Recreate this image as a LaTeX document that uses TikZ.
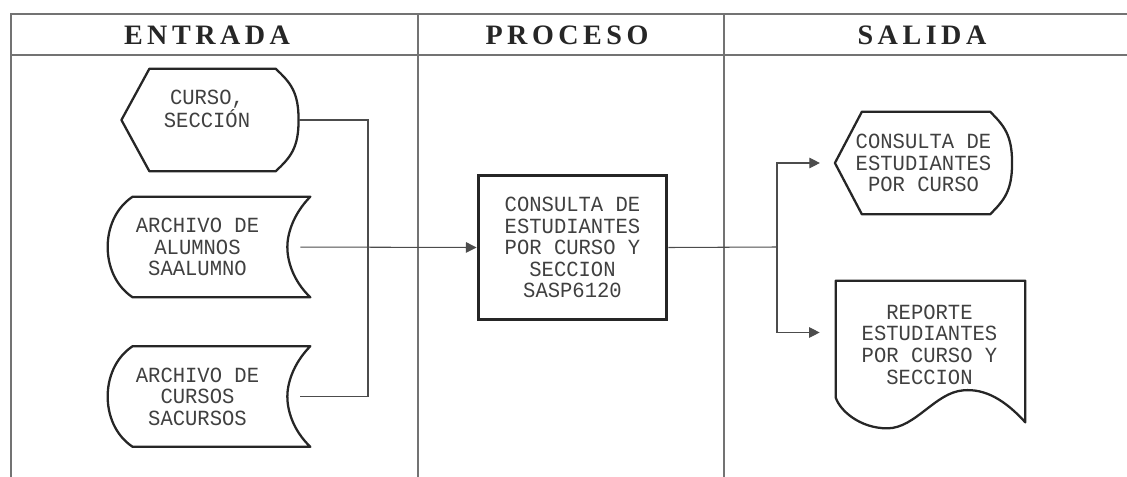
\documentclass[tikz,border=0pt]{standalone}
\usepackage{fontspec}
\usetikzlibrary{arrows.meta,positioning,calc}
\newfontfamily\plotfont[FakeStretch=0.95]{Liberation Mono}
\newfontfamily\headfont[LetterSpace=16]{Liberation Serif}

\begin{document}
\begin{tikzpicture}[
    x=0.02cm, y=-0.02cm,
    every node/.style={font=\plotfont\fontsize{12.3}{12.3}\selectfont,
                       text=black!75, align=center, inner sep=0pt},
    head/.style={font=\headfont\bfseries\fontsize{16}{18}\selectfont,
                 text=black!85},
    grid/.style={draw=black!55, line width=0.6pt},
    outline/.style={draw=black!85, line width=1.3pt, line join=round},
    line/.style={draw=black!70, line width=0.6pt},
    arrow/.style={line, -{Triangle[length=6pt,width=6pt]}},
    disp/.style={minimum width=3.53cm, minimum height=2.04cm},
    store/.style={minimum width=3.58cm, minimum height=2.0cm},
  ]
  \useasboundingbox (0,0) rectangle (1127,477);

  % Table frame and headings
  \draw[grid] (1127,14) -- (11,14) -- (11,477);
  \draw[grid] (11,55) -- (1127,55);
  \draw[grid] (418,14) -- (418,477);
  \draw[grid] (724,14) -- (724,477);
  \node[head] (hin) at (207,35) {ENTRADA};
  \node[head] (hproc) at (567,35) {PROCESO};
  \node[head] (hout) at (922,35) {SALIDA};

  % Entrada - display
  \node[disp] (curso) at (210,120) {};
  \node (cursotxt) at ($(curso.center)+(-3,-11)$) {CURSO,\\SECCIÓN};
  \draw[outline] (curso.west) -- ($(curso.north west)+(28,0)$)
    -- ($(curso.north east)+(-23,0)$)
    .. controls ($(curso.north east)+(-8,14)$) and ($(curso.east)+(0,-28)$) .. (curso.east)
    .. controls ($(curso.east)+(0,28)$) and ($(curso.south east)+(-8,-14)$) .. ($(curso.south east)+(-23,0)$)
    -- ($(curso.south west)+(28,0)$) -- cycle;

  % Entrada - stored data
  \node[store] (alumnos) at (197.5,247) {ARCHIVO DE\\ALUMNOS\\SAALUMNO};
  \node[store] (cursos) at (197.5,396.5) {ARCHIVO DE\\CURSOS\\SACURSOS};
  \foreach \n in {alumnos,cursos}
    \draw[outline] ($(\n.north west)+(25,0)$) -- ($(\n.north east)+(23,0)$)
      .. controls ($(\n.east)+(5,-32)$) and ($(\n.east)+(0,-12)$) .. (\n.east)
      .. controls ($(\n.east)+(0,13)$) and ($(\n.east)+(5,33)$) .. ($(\n.south east)+(23,0)$)
      -- ($(\n.south west)+(25,0)$)
      .. controls ($(\n.south west)+(7,-12)$) and ($(\n.west)+(0,18)$) .. (\n.west)
      .. controls ($(\n.west)+(0,-18)$) and ($(\n.north west)+(7,12)$) .. ($(\n.north west)+(25,0)$)
      -- cycle;

  % Proceso
  \node[draw=black!85, line width=1.7pt, minimum width=3.78cm, minimum height=2.9cm]
    (proceso) at (572.5,247.5)
    {CONSULTA DE\\ESTUDIANTES\\POR CURSO Y\\SECCION\\SASP6120};

  % Salida - display
  \node[disp] (consulta) at (923.5,163) {CONSULTA DE\\ESTUDIANTES\\POR CURSO};
  \draw[outline] (consulta.west) -- ($(consulta.north west)+(27,0)$)
    -- ($(consulta.north east)+(-22,0)$)
    .. controls ($(consulta.north east)+(-8,14)$) and ($(consulta.east)+(0,-28)$) .. (consulta.east)
    .. controls ($(consulta.east)+(0,28)$) and ($(consulta.south east)+(-8,-14)$) .. ($(consulta.south east)+(-22,0)$)
    -- ($(consulta.south west)+(27,0)$) -- cycle;

  % Salida - document
  \node[minimum width=3.78cm, minimum height=2.94cm] (reporte) at (930.5,354.5) {};
  \node (reportetxt) at ($(reporte.center)+(-1,-10)$)
    {REPORTE\\ESTUDIANTES\\POR CURSO Y\\SECCION};
  \draw[outline] (reporte.north west) -- (reporte.north east)
    -- ($(reporte.south east)+(0,-6)$)
    .. controls ($(reporte.south east)+(-20,-28)$) and ($(reporte.south east)+(-40,-40)$) .. ($(reporte.south east)+(-62,-38)$)
    .. controls ($(reporte.south east)+(-90,-36)$) and ($(reporte.south east)+(-110,0)$) .. ($(reporte.south east)+(-138,0)$)
    .. controls ($(reporte.south west)+(24,0)$) and ($(reporte.south west)+(4,-18)$) .. ($(reporte.south west)+(0,-31)$)
    -- cycle;

  % Connectors
  \coordinate (jin) at (368,247);
  \coordinate (jout) at (777,247);
  \draw[line] (curso.east) -| (jin);
  \draw[line, shorten <=0.26cm] (cursos.east) -| (jin);
  \draw[arrow, shorten <=0.26cm] (alumnos.east) -- (proceso.west);
  \draw[line] (proceso.east) -- (jout);
  \draw[arrow, shorten >=0.3cm] (jout) |- (consulta.west);
  \draw[arrow, shorten >=0.32cm] (jout) |- ($(reporte.west)+(0,-22)$);
\end{tikzpicture}
\end{document}
